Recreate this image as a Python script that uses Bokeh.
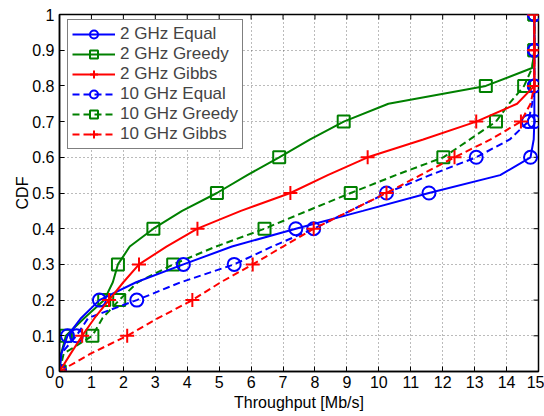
from bokeh.plotting import figure
from bokeh.models import Range1d, FixedTicker, Legend, LegendItem
from bokeh.embed import file_html
from bokeh.resources import INLINE
import math

# CDF levels at which throughput values were read
cdf_levels = [0.0, 0.05, 0.1, 0.15, 0.2, 0.25, 0.3, 0.35, 0.4, 0.45, 0.5,
              0.55, 0.6, 0.65, 0.7, 0.75, 0.8, 0.85, 0.9, 0.95, 1.0]

# Throughput [Mb/s] per series at the CDF levels above
thr_2ghz_equal = [0.0, 0.06, 0.25, 0.68, 1.25, 2.4, 3.88, 5.4, 7.4, 9.5, 11.57,
                  13.8, 14.75, 14.85, 14.87, 14.87, 14.87, 14.87, 14.87, 14.87, 14.87]
thr_2ghz_greedy = [0.0, 0.05, 0.2, 0.78, 1.4, 1.67, 1.83, 2.2, 2.94, 3.84, 4.93,
                   5.88, 6.88, 7.85, 8.9, 10.3, 13.35, 14.8, 14.87, 14.87, 14.87]
thr_2ghz_gibbs = [0.0, 0.35, 0.71, 1.1, 1.55, 2.0, 2.49, 3.35, 4.32, 5.68, 7.23,
                  8.4, 9.65, 11.39, 13.05, 14.33, 14.87, 14.87, 14.87, 14.87, 14.87]
thr_10ghz_equal = [0.0, 0.05, 0.53, 0.9, 2.42, 3.8, 5.47, 6.66, 7.96, 9.1, 10.24,
                   11.6, 13.05, 14.1, 14.68, 14.8, 14.87, 14.87, 14.87, 14.87, 14.87]
thr_10ghz_greedy = [0.0, 0.13, 1.03, 1.35, 1.87, 2.45, 3.56, 4.9, 6.42, 7.76, 9.12,
                    10.53, 12.02, 12.85, 13.67, 14.08, 14.55, 14.8, 14.87, 14.87, 14.87]
thr_10ghz_gibbs = [0.0, 0.97, 2.12, 3.1, 4.16, 5.05, 6.05, 7.0, 7.96, 9.1, 10.24,
                   11.3, 12.37, 13.5, 14.45, 14.75, 14.87, 14.87, 14.87, 14.87, 14.87]

series_names = ["2 GHz Equal", "2 GHz Greedy", "2 GHz Gibbs",
                "10 GHz Equal", "10 GHz Greedy", "10 GHz Gibbs"]
series_values = [thr_2ghz_equal, thr_2ghz_greedy, thr_2ghz_gibbs,
                 thr_10ghz_equal, thr_10ghz_greedy, thr_10ghz_gibbs]

x_ticks = list(range(16))
y_ticks = [0.0, 0.1, 0.2, 0.3, 0.4, 0.5, 0.6, 0.7, 0.8, 0.9, 1.0]
y_tick_labels = ["0", "0.1", "0.2", "0.3", "0.4", "0.5", "0.6", "0.7", "0.8", "0.9", "1"]
x_min, x_max = 0, 15
y_min, y_max = 0, 1

colors = ["#0000ff", "#008000", "#ff0000", "#0000ff", "#008000", "#ff0000"]
markers = ["circle", "square", "cross", "circle", "square", "cross"]
sizes = [13, 12, 14, 13, 12, 14]
dashes = ["solid", "solid", "solid", "7 4", "7 4", "7 4"]
draw_order = [1, 4, 0, 3, 2, 5]

FONT = "Liberation Sans"

p = figure(width=544, height=416, output_backend="svg", toolbar_location=None,
           x_range=Range1d(x_min, x_max), y_range=Range1d(y_min, y_max),
           min_border_left=59, min_border_right=6, min_border_top=14, min_border_bottom=45,
           background_fill_color="white", border_fill_color="white")

p.outline_line_color = "black"
p.outline_line_width = 1.5

for ax in (p.xaxis[0], p.yaxis[0]):
    ax.major_tick_in = 5
    ax.major_tick_out = 0
    ax.minor_tick_in = 0
    ax.minor_tick_out = 0
    ax.axis_line_color = "black"
    ax.axis_line_width = 1.5
    ax.major_label_text_font = FONT
    ax.major_label_text_font_size = "16px"
    ax.major_label_text_color = "black"
    ax.axis_label_text_font = FONT
    ax.axis_label_text_font_size = "16px"
    ax.axis_label_text_font_style = "normal"
    ax.axis_label_text_color = "black"

p.xaxis.ticker = FixedTicker(ticks=x_ticks)
p.yaxis.ticker = FixedTicker(ticks=y_ticks)
p.yaxis.major_label_overrides = dict(zip(y_ticks, y_tick_labels))
p.xaxis.axis_label = "Throughput [Mb/s]"
p.yaxis.axis_label = "CDF"
p.xaxis.major_label_standoff = 4
p.xaxis.axis_label_standoff = 3
p.yaxis.major_label_standoff = 5
p.yaxis.axis_label_standoff = -2

p.xgrid.ticker = FixedTicker(ticks=x_ticks)
p.ygrid.ticker = FixedTicker(ticks=y_ticks)
for g in (p.xgrid[0], p.ygrid[0]):
    g.grid_line_color = "#555555"
    g.grid_line_dash = "1 3"
    g.grid_line_width = 1
    g.grid_line_alpha = 0.8

# inward tick marks on the top and right edges of the box (half clipped by the frame)
p.scatter(x_ticks, [y_max] * len(x_ticks), marker="dash", angle=math.pi / 2, size=10,
          line_color="black", line_width=1)
p.scatter([x_max] * len(y_ticks), y_ticks, marker="dash", size=10,
          line_color="black", line_width=1)

marker_levels = cdf_levels[::2]
renderers = {}
for i in draw_order:
    xs = series_values[i]
    lr = p.line(xs, cdf_levels, line_color=colors[i], line_width=2, line_dash=dashes[i])
    sr = p.scatter(xs[::2], marker_levels, marker=markers[i], size=sizes[i],
                   line_color=colors[i], fill_color=None, line_width=2)
    renderers[i] = [lr, sr]

items = [LegendItem(label=series_names[i], renderers=renderers[i]) for i in range(6)]
legend = Legend(items=items, location=(8, 222), margin=0, padding=4, spacing=0,
                glyph_width=43, glyph_height=20, label_height=20, label_standoff=5,
                label_text_font=FONT, label_text_font_size="17px",
                border_line_color="black", border_line_width=1,
                background_fill_color="white", background_fill_alpha=1)
p.add_layout(legend)

open("out.html", "w").write(file_html(p, INLINE))
